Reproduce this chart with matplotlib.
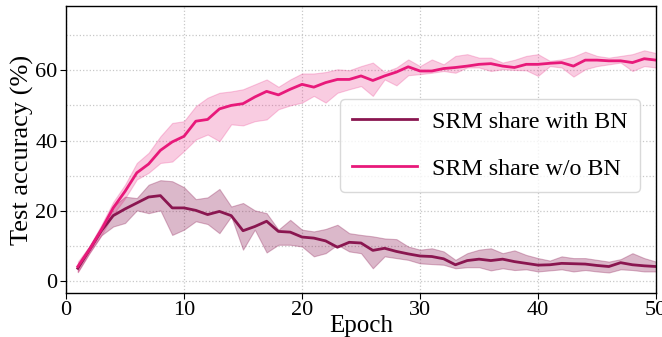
import matplotlib
matplotlib.use("Agg")
import matplotlib.pyplot as plt
from matplotlib.ticker import MultipleLocator
import numpy as np

epochs = list(range(1, 51))

with_bn_mean = [3.6, 8.9, 14.3, 18.6, 20.5, 22.2, 23.9, 24.3, 20.8, 20.8,
                20.1, 18.9, 19.8, 18.6, 14.3, 15.5, 17.0, 14.1, 13.9, 12.5,
                12.2, 11.4, 9.6, 11.0, 10.8, 8.7, 9.3, 8.4, 7.7, 7.1,
                6.95, 6.3, 4.6, 5.8, 6.2, 5.8, 6.2, 5.5, 5.0, 4.5,
                4.6, 5.0, 4.9, 4.8, 4.4, 4.1, 5.2, 4.6, 4.3, 4.1]
with_bn_upper = [4.8, 10.0, 15.5, 21.2, 24.0, 23.6, 27.4, 28.7, 28.4, 26.7,
                 23.3, 23.8, 26.2, 21.2, 22.2, 20.1, 19.3, 14.6, 17.4, 14.6,
                 14.1, 14.8, 16.0, 13.6, 13.1, 12.7, 12.1, 11.9, 9.8, 8.9,
                 9.3, 8.4, 6.0, 7.9, 8.9, 9.3, 7.9, 8.7, 7.4, 6.5,
                 5.8, 7.0, 6.5, 6.5, 6.0, 5.5, 6.2, 7.9, 6.5, 5.5]
with_bn_lower = [2.5, 8.0, 13.0, 15.5, 16.5, 20.1, 19.3, 20.1, 13.1, 14.6,
                 17.0, 16.2, 13.6, 18.4, 8.9, 14.6, 8.1, 10.3, 10.3, 9.8,
                 7.0, 7.9, 10.3, 8.4, 7.9, 3.6, 7.0, 6.5, 6.0, 5.0,
                 4.8, 4.6, 3.6, 3.9, 3.9, 3.0, 3.6, 3.1, 3.3, 2.7,
                 3.0, 3.3, 2.7, 3.1, 2.7, 2.4, 3.3, 3.1, 2.7, 2.7]

wo_bn_mean = [4.1, 9.0, 14.6, 20.8, 25.5, 30.8, 33.3, 37.2, 39.6, 41.2,
              45.5, 46.0, 49.0, 50.0, 50.5, 52.4, 54.0, 53.0, 54.6, 56.0,
              55.2, 56.5, 57.4, 57.4, 58.4, 57.1, 58.4, 59.5, 61.0, 59.8,
              59.8, 60.5, 60.8, 61.2, 61.7, 61.9, 61.2, 60.8, 61.7, 61.7,
              62.0, 62.2, 61.2, 62.9, 62.9, 62.7, 62.7, 62.2, 63.3, 62.9]
wo_bn_upper = [5.5, 10.0, 16.0, 22.5, 27.4, 33.6, 36.5, 41.2, 45.0, 45.5,
               49.8, 52.2, 53.6, 54.0, 54.6, 56.0, 57.4, 55.3, 57.4, 59.1,
               59.1, 59.5, 60.3, 60.0, 61.2, 62.2, 59.5, 60.8, 63.1, 61.2,
               63.1, 61.7, 64.1, 64.6, 63.6, 63.6, 62.2, 63.0, 64.1, 64.6,
               62.7, 63.1, 63.9, 65.3, 64.1, 63.6, 64.1, 64.6, 65.7, 64.9]
wo_bn_lower = [2.6, 8.0, 13.0, 19.0, 23.5, 28.9, 30.8, 33.6, 34.0, 37.0,
               40.3, 41.7, 39.8, 44.6, 44.3, 45.5, 46.0, 48.9, 50.0, 50.8,
               52.7, 50.8, 53.6, 54.6, 55.5, 52.7, 57.4, 55.7, 58.6, 58.9,
               59.3, 59.8, 59.3, 60.8, 60.8, 59.8, 60.3, 60.1, 60.0, 58.4,
               61.2, 60.8, 58.2, 60.3, 61.2, 61.7, 62.2, 59.8, 61.2, 60.8]

labels = ["SRM share with BN", "SRM share w/o BN"]
colors = ["#8a1650", "#e8197a"]

plt.rcParams['font.family'] = ['Liberation Serif', 'DejaVu Serif']

fig = plt.figure(figsize=(6.62, 3.37), dpi=100)
ax = fig.add_axes([0.0997, 0.131, 0.8913, 0.851])

series = [(with_bn_mean, with_bn_lower, with_bn_upper),
          (wo_bn_mean, wo_bn_lower, wo_bn_upper)]
alphas = [0.3, 0.22]
for (m, lo, hi), c, lab, a in zip(series, colors, labels, alphas):
    ax.fill_between(epochs, lo, hi, color=c, alpha=a, linewidth=0.8)
    ax.plot(epochs, m, color=c, lw=2.0, label=lab)

ax.set_xlim(0, 50)
ax.set_ylim(-3.4, 78.3)
ax.xaxis.set_major_locator(MultipleLocator(10))
ax.yaxis.set_major_locator(MultipleLocator(20))
ax.yaxis.set_minor_locator(MultipleLocator(10))
ax.tick_params(axis='y', which='minor', length=0)
ax.tick_params(axis='both', which='major', labelsize=16, length=4, width=0.8, pad=2)
ax.grid(True, which='major', axis='both', linestyle=':', color='#c8c8c8', lw=0.9)
ax.grid(True, which='minor', axis='y', linestyle=':', color='#c8c8c8', lw=0.9)
ax.set_axisbelow(True)
for s in ax.spines.values():
    s.set_linewidth(1.0)

ax.set_xlabel("Epoch", fontsize=18, labelpad=-4)
ax.set_ylabel("Test accuracy (%)", fontsize=19, labelpad=1)

leg = ax.legend(loc='upper right', bbox_to_anchor=(0.973, 0.676),
                borderaxespad=0, fontsize=17.3, labelspacing=1.05,
                handlelength=2.7, handletextpad=0.65, borderpad=0.5,
                fancybox=True, framealpha=0.8, edgecolor='#d0d0d0')

fig.savefig("out.png", dpi=100)
